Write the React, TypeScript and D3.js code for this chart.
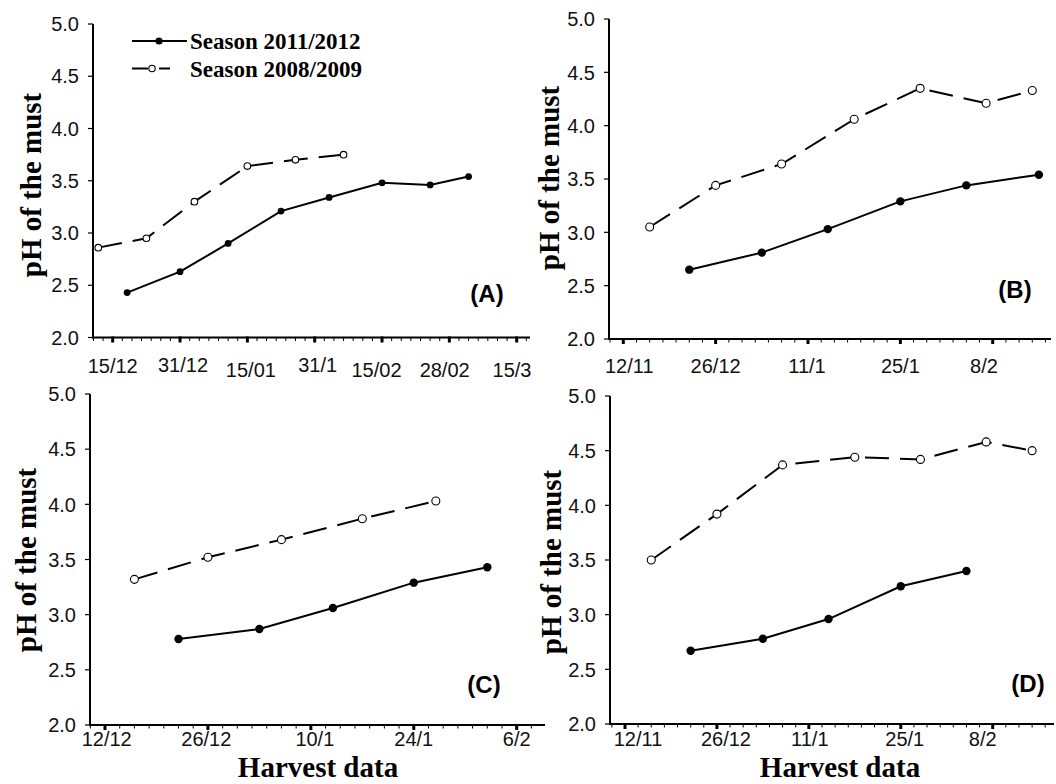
import React from "react";
import * as d3 from "d3";

// ---------- DATA ----------
// x values: days counted from the first labelled tick of each panel
const yTicks = [2.0, 2.5, 3.0, 3.5, 4.0, 4.5, 5.0];

const tickLabelsA = ["15/12", "31/12", "15/01", "31/1", "15/02", "28/02", "15/3"];
const tickLabelsB = ["12/11", "26/12", "11/1", "25/1", "8/2"];
const tickLabelsC = ["12/12", "26/12", "10/1", "24/1", "6/2"];
const tickLabelsD = ["12/11", "26/12", "11/1", "25/1", "8/2"];

const daysA2011 = [3, 14, 24, 35, 45, 56, 66, 74];
const phA2011 = [2.43, 2.63, 2.9, 3.21, 3.34, 3.48, 3.46, 3.54];
const daysA2008 = [-3, 7, 17, 28, 38, 48];
const phA2008 = [2.86, 2.95, 3.3, 3.64, 3.7, 3.75];

const daysB2011 = [10, 21, 31, 42, 52, 63];
const phB2011 = [2.65, 2.81, 3.03, 3.29, 3.44, 3.54];
const daysB2008 = [4, 14, 24, 35, 45, 55, 62];
const phB2008 = [3.05, 3.44, 3.64, 4.06, 4.35, 4.21, 4.33];

const daysC2011 = [10, 21, 31, 42, 52];
const phC2011 = [2.78, 2.87, 3.06, 3.29, 3.43];
const daysC2008 = [4, 14, 24, 35, 45];
const phC2008 = [3.32, 3.52, 3.68, 3.87, 4.03];

const daysD2011 = [10, 21, 31, 42, 52];
const phD2011 = [2.67, 2.78, 2.96, 3.26, 3.4];
const daysD2008 = [4, 14, 24, 35, 45, 55, 62];
const phD2008 = [3.5, 3.92, 4.37, 4.44, 4.42, 4.58, 4.5];

const seriesNames = ["Season 2011/2012", "Season 2008/2009"];
const panelTags = ["(A)", "(B)", "(C)", "(D)"];
const yTitle = "pH of the must";
const xTitle = "Harvest data";

const MAJOR = 14; // days between labelled ticks
const MINOR = 2; // days between minor ticks

// ---------- LAYOUT ----------
type Layout = {
  axisX: number;
  axisEnd: number;
  yTop: number;
  yBottom: number;
  t0: number;
  tLast: number;
  labelDx: number[];
  labelDy: number[];
  tagX: number;
  tagY: number;
  yTitleX: number;
  yTitleY: number;
  markerR: number;
  openR: number;
  xTitleX?: number;
};

const layoutA: Layout = {
  axisX: 93, axisEnd: 530, yTop: 24, yBottom: 337.5, t0: 112.7, tLast: 516.7,
  labelDx: [0, 3, 3.5, 3, -5.5, -4.7, -4.7],
  labelDy: [35.5, 34.5, 39.5, 34, 39.5, 39.5, 39.5],
  tagX: 487, tagY: 302, yTitleX: 41, yTitleY: 185, markerR: 3.4, openR: 3.3,
};
const layoutB: Layout = {
  axisX: 609, axisEnd: 1051, yTop: 19, yBottom: 339, t0: 623.3, tLast: 992.7,
  labelDx: [6, 0, -1, 0, -8.7],
  labelDy: [34, 34, 34, 34, 34],
  tagX: 1015, tagY: 298, yTitleX: 559, yTitleY: 178, markerR: 4.2, openR: 4,
};
const layoutC: Layout = {
  axisX: 90, axisEnd: 545, yTop: 394, yBottom: 725, t0: 105, tLast: 516.7,
  labelDx: [1.7, -1.6, 4, 0, 0],
  labelDy: [20.5, 20.5, 20.5, 20.5, 20.5],
  tagX: 484, tagY: 693, yTitleX: 36, yTitleY: 560, markerR: 4.2, openR: 4, xTitleX: 318,
};
const layoutD: Layout = {
  axisX: 610, axisEnd: 1054, yTop: 396, yBottom: 724, t0: 625, tLast: 992.7,
  labelDx: [13, 9, 1, 4, -10],
  labelDy: [21.5, 21.5, 21.5, 21.5, 21.5],
  tagX: 1028, tagY: 692, yTitleX: 561, yTitleY: 562, markerR: 4.2, openR: 4, xTitleX: 840,
};

const SANS = "'Liberation Sans', Arial, Helvetica, sans-serif";
const SERIF = "'Liberation Serif', 'Times New Roman', Times, serif";

type PanelProps = {
  layout: Layout;
  labels: string[];
  d1: number[];
  v1: number[];
  d2: number[];
  v2: number[];
  tag: string;
};

function Panel({ layout, labels, d1, v1, d2, v2, tag }: PanelProps) {
  const L = layout;
  const lastMajor = (labels.length - 1) * MAJOR;
  const ppd = (L.tLast - L.t0) / lastMajor;
  const x0 = (L.axisX - L.t0) / ppd;
  const x1 = (L.axisEnd - L.t0) / ppd;
  const x = d3.scaleLinear().domain([x0, x1]).range([L.axisX, L.axisEnd]);
  const y = d3.scaleLinear().domain([2, 5]).range([L.yBottom, L.yTop]);

  const majors = labels.map((_, i) => i * MAJOR);
  const minors = d3
    .range(Math.ceil(x0 / MINOR) * MINOR, x1 + 0.001, MINOR)
    .filter((d) => !majors.includes(d));

  const line = d3
    .line<[number, number]>()
    .x((p) => x(p[0]))
    .y((p) => y(p[1]));
  const s1 = d1.map((d, i) => [d, v1[i]] as [number, number]);
  const s2 = d2.map((d, i) => [d, v2[i]] as [number, number]);

  return (
    <g>
      {/* axes */}
      <line x1={L.axisX} x2={L.axisX} y1={L.yTop} y2={L.yBottom + 1} stroke="#000" strokeWidth={2} />
      <line x1={L.axisX - 1} x2={L.axisEnd} y1={L.yBottom} y2={L.yBottom} stroke="#000" strokeWidth={2} />
      {yTicks.map((t) => (
        <g key={"y" + t}>
          <line x1={L.axisX - 5} x2={L.axisX} y1={y(t)} y2={y(t)} stroke="#000" strokeWidth={1.2} />
          <text
            x={L.axisX - 14}
            y={y(t)}
            dy="0.36em"
            textAnchor="end"
            fontFamily={SANS}
            fontSize={20}
            fill="#111"
          >
            {t.toFixed(1)}
          </text>
        </g>
      ))}
      {minors.map((d) => (
        <line key={"m" + d} x1={x(d)} x2={x(d)} y1={L.yBottom} y2={L.yBottom + 3.5} stroke="#000" strokeWidth={1} />
      ))}
      {majors.map((d, i) => (
        <g key={"M" + d}>
          <line x1={x(d)} x2={x(d)} y1={L.yBottom - 1} y2={L.yBottom + 5} stroke="#000" strokeWidth={3} />
          <text
            x={x(d) + L.labelDx[i]}
            y={L.yBottom + L.labelDy[i]}
            textAnchor="middle"
            fontFamily={SANS}
            fontSize={20}
            fill="#111"
          >
            {labels[i]}
          </text>
        </g>
      ))}
      {/* y title */}
      <text
        transform={`translate(${L.yTitleX},${L.yTitleY}) rotate(-90)`}
        textAnchor="middle"
        fontFamily={SERIF}
        fontWeight="bold"
        fontSize={29}
        fill="#000"
      >
        {yTitle}
      </text>
      {L.xTitleX !== undefined && (
        <text x={L.xTitleX} y={776.5} textAnchor="middle" fontFamily={SERIF} fontWeight="bold" fontSize={29} fill="#000">
          {xTitle}
        </text>
      )}
      {/* series 2008/2009 dashed, open markers */}
      <path d={line(s2) || ""} fill="none" stroke="#000" strokeWidth={2} strokeDasharray="24,11" />
      {s2.map((p, i) => (
        <circle key={"o" + i} cx={x(p[0])} cy={y(p[1])} r={L.openR} fill="#fff" stroke="#000" strokeWidth={1.1} />
      ))}
      {/* series 2011/2012 solid, filled markers */}
      <path d={line(s1) || ""} fill="none" stroke="#000" strokeWidth={2} />
      {s1.map((p, i) => (
        <circle key={"f" + i} cx={x(p[0])} cy={y(p[1])} r={L.markerR} fill="#000" />
      ))}
      <text x={L.tagX} y={L.tagY} textAnchor="middle" fontFamily={SANS} fontWeight="bold" fontSize={24} fill="#000">
        {tag}
      </text>
    </g>
  );
}

function Legend() {
  const y1 = 41;
  const y2 = 68.5;
  return (
    <g>
      <line x1={132} x2={187} y1={y1} y2={y1} stroke="#000" strokeWidth={2} />
      <circle cx={159} cy={y1} r={3.6} fill="#000" />
      <text x={190} y={y1 + 8} fontFamily={SERIF} fontWeight="bold" fontSize={23} fill="#000">
        {seriesNames[0]}
      </text>
      <line x1={132} x2={148} y1={y2} y2={y2} stroke="#000" strokeWidth={2} />
      <circle cx={152} cy={y2} r={3.2} fill="#fff" stroke="#000" strokeWidth={1.1} />
      <line x1={159} x2={170} y1={y2} y2={y2} stroke="#000" strokeWidth={2} />
      <text x={190} y={y2 + 8} fontFamily={SERIF} fontWeight="bold" fontSize={23} fill="#000">
        {seriesNames[1]}
      </text>
    </g>
  );
}

export default function App() {
  return (
    <svg
      width={1056}
      height={784}
      viewBox="0 0 1056 784"
      style={{ position: "absolute", left: 0, top: 0, background: "#fff" }}
    >
      <rect width={1056} height={784} fill="#fff" />
      <Panel layout={layoutA} labels={tickLabelsA} d1={daysA2011} v1={phA2011} d2={daysA2008} v2={phA2008} tag={panelTags[0]} />
      <Panel layout={layoutB} labels={tickLabelsB} d1={daysB2011} v1={phB2011} d2={daysB2008} v2={phB2008} tag={panelTags[1]} />
      <Panel layout={layoutC} labels={tickLabelsC} d1={daysC2011} v1={phC2011} d2={daysC2008} v2={phC2008} tag={panelTags[2]} />
      <Panel layout={layoutD} labels={tickLabelsD} d1={daysD2011} v1={phD2011} d2={daysD2008} v2={phD2008} tag={panelTags[3]} />
      <Legend />
    </svg>
  );
}
